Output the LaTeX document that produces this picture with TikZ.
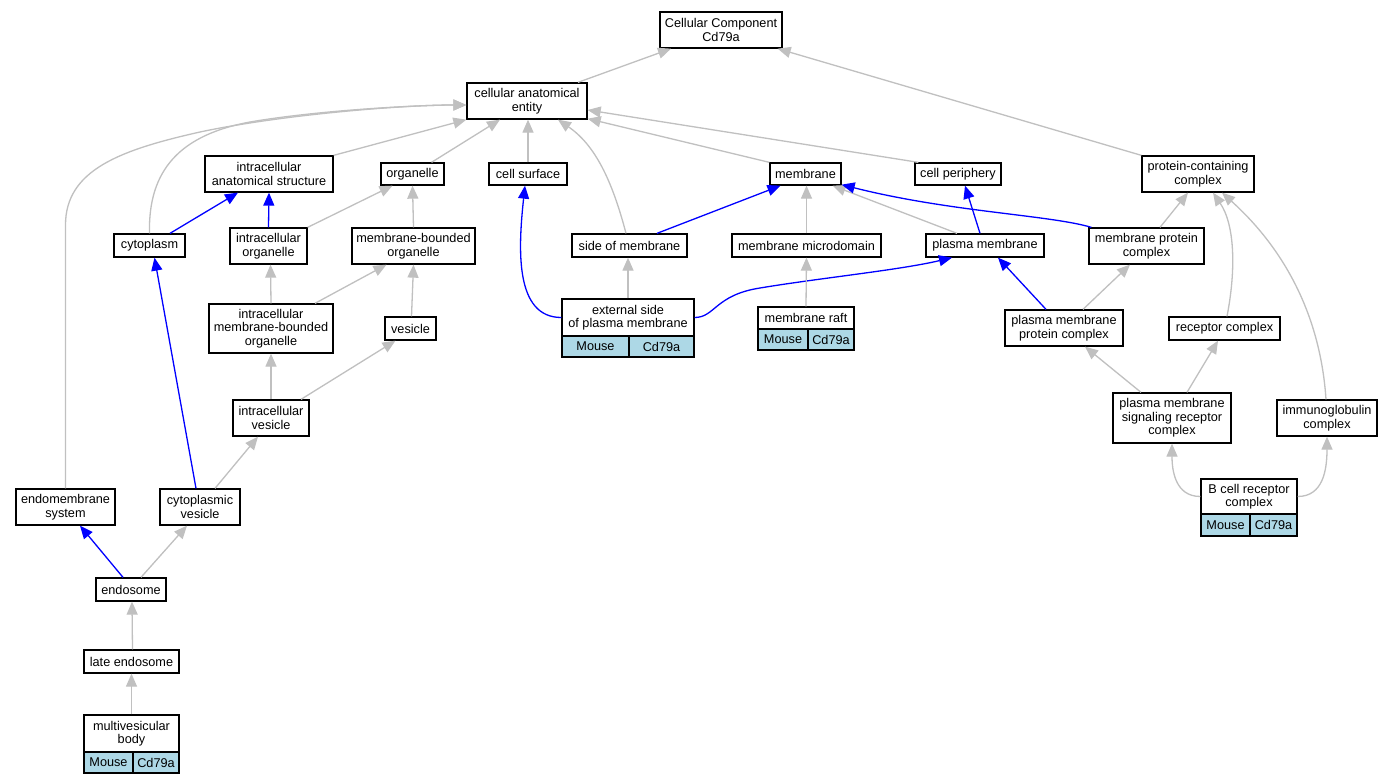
\documentclass[tikz,border=0pt]{standalone}
\usepackage{fontspec}
\setmainfont{Liberation Sans}
\usetikzlibrary{arrows.meta}
\definecolor{edgegray}{HTML}{C0C0C0}
\definecolor{cellblue}{HTML}{ADD8E6}
\begin{document}
\begin{tikzpicture}[x=1pt,y=-1pt,
  box/.style={draw=black,line width=1.3pt,fill=white,inner sep=0pt,align=center,font=\fontsize{12.7}{13.5}\selectfont},
  cell/.style={box,fill=cellblue},
  ge/.style={draw=edgegray,line width=1.3pt,-{Triangle[length=13pt,width=11pt]}},
  be/.style={draw=blue,line width=1.3pt,-{Triangle[length=13pt,width=11pt]}}]
\useasboundingbox[fill=white] (0,0) rectangle (1392,784);

% nodes
\node[box,minimum width=122pt,minimum height=36pt] (root) at (721,30) {Cellular Component\\Cd79a};
\node[box,minimum width=120pt,minimum height=36pt] (cae) at (527,101) {cellular anatomical\\entity};
\node[box,minimum width=128pt,minimum height=36pt] (ias) at (269,174) {intracellular\\anatomical structure};
\node[box,minimum width=63pt,minimum height=22pt] (org) at (412.5,174) {organelle};
\node[box,minimum width=78pt,minimum height=22pt] (cs) at (528,174) {cell surface};
\node[box,minimum width=71pt,minimum height=22pt] (mem) at (805.5,174) {membrane};
\node[box,minimum width=86pt,minimum height=22pt] (cp) at (958,174) {cell periphery};
\node[box,minimum width=112pt,minimum height=36pt] (pcc) at (1198,174) {protein-containing\\complex};
\node[box,minimum width=71pt,minimum height=23pt] (cyt) at (149.5,245.5) {cytoplasm};
\node[box,minimum width=77pt,minimum height=36pt] (iorg) at (268.5,246) {intracellular\\organelle};
\node[box,minimum width=123pt,minimum height=36pt] (mbo) at (413.5,246) {membrane-bounded\\organelle};
\node[box,minimum width=115pt,minimum height=23pt] (som) at (629.5,245.5) {side of membrane};
\node[box,minimum width=149pt,minimum height=23pt] (mmd) at (806.5,245.5) {membrane microdomain};
\node[box,minimum width=118pt,minimum height=23pt] (pm) at (985,245.5) {plasma membrane};
\node[box,minimum width=115pt,minimum height=36pt] (mpc) at (1146.5,246) {membrane protein\\complex};
\node[box,minimum width=124pt,minimum height=49pt] (imbo) at (271,328.5) {intracellular\\membrane-bounded\\organelle};
\node[box,minimum width=51pt,minimum height=23pt] (ves) at (410.5,328.5) {vesicle};
\node[box,minimum width=132pt,minimum height=37pt] (esopm) at (628,317.5) {external side\\of plasma membrane};
\node[cell,minimum width=67pt,minimum height=21pt] (esopmM) at (595.5,346.5) {Mouse};
\node[cell,minimum width=65pt,minimum height=21pt] (esopmC) at (661.5,346.5) {Cd79a};
\node[box,minimum width=96pt,minimum height=22pt] (mraft) at (806,318) {membrane raft};
\node[cell,minimum width=50pt,minimum height=21pt] (mraftM) at (783,339.5) {Mouse};
\node[cell,minimum width=46pt,minimum height=21pt] (mraftC) at (831,339.5) {Cd79a};
\node[box,minimum width=118pt,minimum height=36pt] (pmpc) at (1064,328) {plasma membrane\\protein complex};
\node[box,minimum width=111pt,minimum height=23pt] (rc) at (1224.5,328.5) {receptor complex};
\node[box,minimum width=76pt,minimum height=36pt] (ives) at (271,418) {intracellular\\vesicle};
\node[box,minimum width=118pt,minimum height=50pt] (pmsrc) at (1172,418) {plasma membrane\\signaling receptor\\complex};
\node[box,minimum width=100pt,minimum height=36pt] (igc) at (1327,418) {immunoglobulin\\complex};
\node[box,minimum width=96pt,minimum height=35pt] (bcr) at (1249,496.5) {B cell receptor\\complex};
\node[cell,minimum width=49pt,minimum height=22pt] (bcrM) at (1225.5,525) {Mouse};
\node[cell,minimum width=47pt,minimum height=22pt] (bcrC) at (1273.5,525) {Cd79a};
\node[box,minimum width=99pt,minimum height=36pt] (ems) at (65.5,507) {endomembrane\\system};
\node[box,minimum width=80pt,minimum height=36pt] (cves) at (200,507) {cytoplasmic\\vesicle};
\node[box,minimum width=70pt,minimum height=23pt] (endo) at (131,589.5) {endosome};
\node[box,minimum width=95pt,minimum height=23pt] (lendo) at (131.5,661.5) {late endosome};
\node[box,minimum width=95pt,minimum height=37pt] (mvb) at (131.5,733.5) {multivesicular\\body};
\node[cell,minimum width=49pt,minimum height=21pt] (mvbM) at (108.5,762.5) {Mouse};
\node[cell,minimum width=46pt,minimum height=21pt] (mvbC) at (156,762.5) {Cd79a};

% edges
\draw[ge] ([xshift=51pt]cae.north) -- ([xshift=-50pt]root.south);
\draw[ge] (pcc.north west) -- ([xshift=-5pt]root.south east);
\draw[ge] (ias.north east) -- (cae.south west);
\draw[ge] ([xshift=19pt]org.north) -- ([xshift=-27pt]cae.south);
\draw[ge] (cs.north) -- ([xshift=1pt]cae.south);
\draw[ge] ([xshift=-3.5pt]som.north) .. controls (612,180) and (595,145) .. ([xshift=31pt]cae.south);
\draw[ge] (mem.north west) -- ([yshift=1pt]cae.south east);
\draw[ge] ([xshift=4pt]cp.north west) -- ([yshift=-9pt]cae.east);
\draw[ge] (cyt.north) .. controls (148,170) and (180,135) .. (250,122) .. controls (320,110) and (420,105) .. ([yshift=-4pt]cae.west);
\draw[ge] (ems.north) -- (65.5,225) .. controls (65.5,170) and (120,150) .. (200,132) .. controls (280,115) and (400,105) .. ([yshift=-4pt]cae.west);
\draw[be] ([xshift=20.5pt]cyt.north) -- ([xshift=-31pt]ias.south);
\draw[be] (iorg.north) -- (ias.south);
\draw[ge] (iorg.north east) -- ([xshift=-20pt]org.south);
\draw[ge] (mbo.north) -- (org.south);
\draw[ge] (imbo.north) -- ([xshift=2pt]iorg.south);
\draw[ge] ([xshift=44pt]imbo.north) -- ([xshift=-27pt]mbo.south);
\draw[ge] ([xshift=1pt]ves.north) -- (mbo.south);
\draw[ge] (ives.north) -- (imbo.south);
\draw[ge] ([xshift=30pt]ives.north) -- ([xshift=-15pt]ves.south);
\draw[ge] ([xshift=15pt]cves.north) -- ([xshift=-13pt]ives.south);
\draw[be] ([xshift=-4pt]cves.north) -- ([xshift=5pt]cyt.south);
\draw[be] ([xshift=-8pt]endo.north) -- ([xshift=14.5pt]ems.south);
\draw[ge] ([xshift=10pt]endo.north) -- ([xshift=-13pt]cves.south);
\draw[ge] ([xshift=1pt]lendo.north) -- ([xshift=1pt]endo.south);
\draw[ge] (mvb.north) -- (lendo.south);
\draw[be] ([xshift=27.5pt]som.north) -- ([xshift=-25pt]mem.south);
\draw[ge] (mmd.north) -- ([xshift=1pt]mem.south);
\draw[ge] ([xshift=-28pt]pm.north) -- ([xshift=-9pt]mem.south east);
\draw[be] ([xshift=-5pt]pm.north) -- ([xshift=7pt]cp.south);
\draw[be] ([xshift=3pt]mpc.north west) .. controls (1050,215) and (950,212) .. ([yshift=1pt]mem.south east);
\draw[ge] ([xshift=13.5pt]mpc.north) -- ([xshift=-10pt]pcc.south);
\draw[ge] (esopm.north) -- ([xshift=-1.5pt]som.south);
\draw[be] (esopm.west) .. controls (515,317.5) and (518,250) .. ([xshift=-3pt]cs.south);
\draw[be] (esopm.east) .. controls (715,317.5) and (715,295) .. (760,288) .. controls (820,278) and (900,270) .. ([xshift=-33pt]pm.south);
\draw[ge] (mraft.north) -- (mmd.south);
\draw[be] ([xshift=-18pt]pmpc.north) -- ([xshift=13pt]pm.south);
\draw[ge] ([xshift=19pt]pmpc.north) -- ([xshift=-16.5pt]mpc.south);
\draw[ge] ([xshift=2.5pt]rc.north) .. controls (1236,270) and (1235,225) .. ([xshift=15pt]pcc.south);
\draw[ge] ([xshift=-1pt]igc.north) .. controls (1320,310) and (1280,245) .. ([xshift=24pt]pcc.south);
\draw[ge] ([xshift=-31pt]pmsrc.north) -- ([xshift=21pt]pmpc.south);
\draw[ge] ([xshift=15pt]pmsrc.north) -- ([xshift=-6.5pt]rc.south);
\draw[ge] (bcr.west) .. controls (1175,496.5) and (1172,470) .. (pmsrc.south);
\draw[ge] (bcr.east) .. controls (1323,496.5) and (1327,470) .. (igc.south);
\end{tikzpicture}
\end{document}
